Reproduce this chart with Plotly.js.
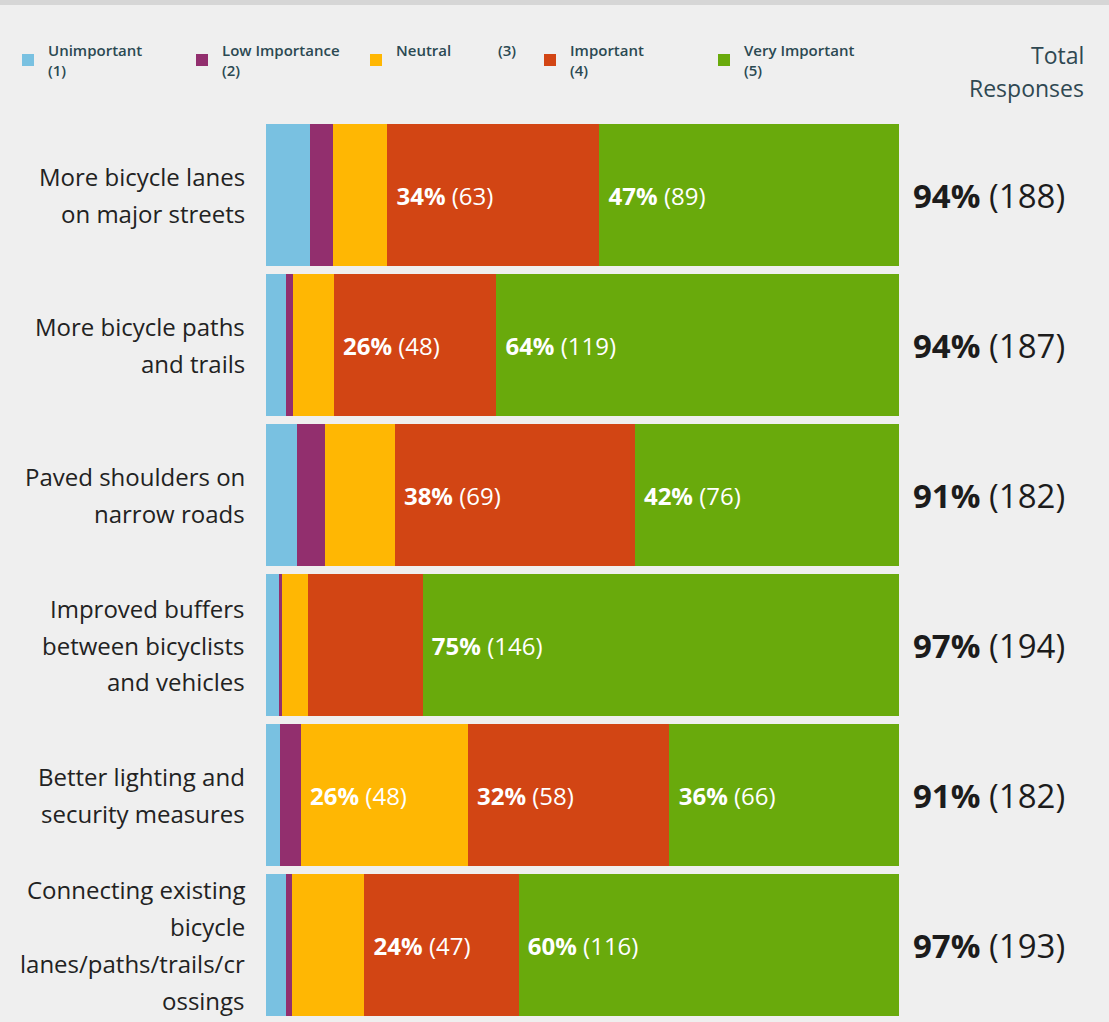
<!DOCTYPE html>
<html>
<head>
<meta charset="utf-8">
<script src="https://cdn.plot.ly/plotly-3.0.1.min.js"></script>
<style>html,body{margin:0;padding:0;background:#efefef;}</style>
</head>
<body>
<div id="chart" style="width:1109px;height:1022px;"></div>
<script>
// ---- data ----
const categories = [
  "More bicycle lanes on major streets",
  "More bicycle paths and trails",
  "Paved shoulders on narrow roads",
  "Improved buffers between bicyclists and vehicles",
  "Better lighting and security measures",
  "Connecting existing bicycle lanes/paths/trails/crossings"
];
const categoryLines = [
  ["More bicycle lanes", "on major streets"],
  ["More bicycle paths", "and trails"],
  ["Paved shoulders on", "narrow roads"],
  ["Improved buffers", "between bicyclists", "and vehicles"],
  ["Better lighting and", "security measures"],
  ["Connecting existing", "bicycle", "lanes/paths/trails/cr", "ossings"]
];
const seriesNames = [
  "Unimportant<br>(1)",
  "Low Importance<br>(2)",
  "Neutral\u00a0\u00a0\u00a0\u00a0\u00a0\u00a0\u00a0\u00a0\u00a0\u00a0\u00a0\u00a0(3)<br>\u00a0",
  "Important<br>(4)",
  "Very Important<br>(5)"
];
const unimportant   = [13, 6, 9, 4, 4, 6];
const lowImportance = [7, 2, 8, 1, 6, 2];
const neutral       = [16, 12, 20, 8, 48, 22];
const important     = [63, 48, 69, 35, 58, 47];
const veryImportant = [89, 119, 76, 146, 66, 116];

const unimportantPct   = [null, null, null, null, null, null];
const lowImportancePct = [null, null, null, null, null, null];
const neutralPct       = [null, null, null, null, 26, null];
const importantPct     = [34, 26, 38, null, 32, 24];
const veryImportantPct = [47, 64, 42, 75, 36, 60];

const totalPct = [94, 94, 91, 97, 91, 97];
const totalN   = [188, 187, 182, 194, 182, 193];

const headerLines = ["Total", "Responses"];

// ---- styles ----
const colors = ["#79c1e1", "#922f6e", "#ffb703", "#d24514", "#69aa0c"];
const FONT = "'Open Sans', 'Noto Sans', sans-serif";
const W = 1109, H = 1022;
const M = {l: 266, r: 210, t: 120, b: 2};
const plotW = W - M.l - M.r;
const plotH = H - M.t - M.b;
const px2paperX = px => (px - M.l) / plotW;
const px2paperY = py => 1 + (M.t - py) / plotH;

const seriesValues = [unimportant, lowImportance, neutral, important, veryImportant];
const seriesPct = [unimportantPct, lowImportancePct, neutralPct, importantPct, veryImportantPct];

const traces = seriesValues.map((vals, s) => ({
  type: "bar",
  orientation: "h",
  name: seriesNames[s],
  y: categories,
  x: vals,
  marker: {color: colors[s], line: {width: 0}},
  text: vals.map((v, i) => seriesPct[s][i] == null ? "" : "\u00a0<b>" + seriesPct[s][i] + "%</b> (" + v + ")"),
  textposition: "inside",
  insidetextanchor: "start",
  textangle: 0,
  constraintext: "none",
  insidetextfont: {family: FONT, size: 24, color: "#ffffff"},
  hoverinfo: "skip"
}));

const annotations = [];
categoryLines.forEach((lines, i) => {
  const n = lines.length;
  lines.forEach((ln, j) => {
    annotations.push({
      xref: "paper", yref: "y", x: 0, y: categories[i],
      xanchor: "right", yanchor: "middle", xshift: -19,
      yshift: ((n - 1) / 2 - j) * 36.8,
      text: ln, showarrow: false, align: "right",
      font: {family: FONT, size: 24, color: "#222222"}
    });
  });
  annotations.push({
    xref: "paper", yref: "y", x: 1, y: categories[i],
    xanchor: "left", yanchor: "middle", xshift: 12,
    text: "<b>" + totalPct[i] + "%</b> (" + totalN[i] + ")",
    showarrow: false,
    font: {family: FONT, size: 33, color: "#1c1c1c"}
  });
});
const headerY = [55, 88];
headerLines.forEach((t, k) => {
  annotations.push({
    xref: "paper", yref: "paper",
    x: px2paperX(1086),
    y: px2paperY(headerY[k]),
    xanchor: "right", yanchor: "middle",
    text: t, showarrow: false,
    font: {family: FONT, size: 23, color: "#2f4852"}
  });
});

const layout = {
  width: W, height: H,
  margin: M,
  paper_bgcolor: "#efefef",
  plot_bgcolor: "#efefef",
  barmode: "stack",
  barnorm: "percent",
  bargap: 0.053,
  xaxis: {range: [0, 100], visible: false, fixedrange: true},
  yaxis: {type: "category", autorange: "reversed", showticklabels: false,
          showgrid: false, zeroline: false, showline: false, ticks: "", fixedrange: true},
  showlegend: true,
  legend: {
    orientation: "h", xref: "paper", yref: "paper",
    x: px2paperX(8), y: px2paperY(60), xanchor: "left", yanchor: "middle",
    entrywidth: 129, entrywidthmode: "pixels",
    traceorder: "normal",
    bgcolor: "rgba(0,0,0,0)",
    font: {family: FONT, size: 15, color: "#2b4952", weight: 600},
    itemclick: false, itemdoubleclick: false
  },
  shapes: [{
    type: "rect", xref: "paper", yref: "paper",
    x0: px2paperX(0), x1: px2paperX(W),
    y0: px2paperY(5), y1: px2paperY(0),
    fillcolor: "#d6d6d6", line: {width: 0}, layer: "below"
  }],
  annotations: annotations
};

Plotly.newPlot("chart", traces, layout, {displayModeBar: false, staticPlot: true});
</script>
</body>
</html>
